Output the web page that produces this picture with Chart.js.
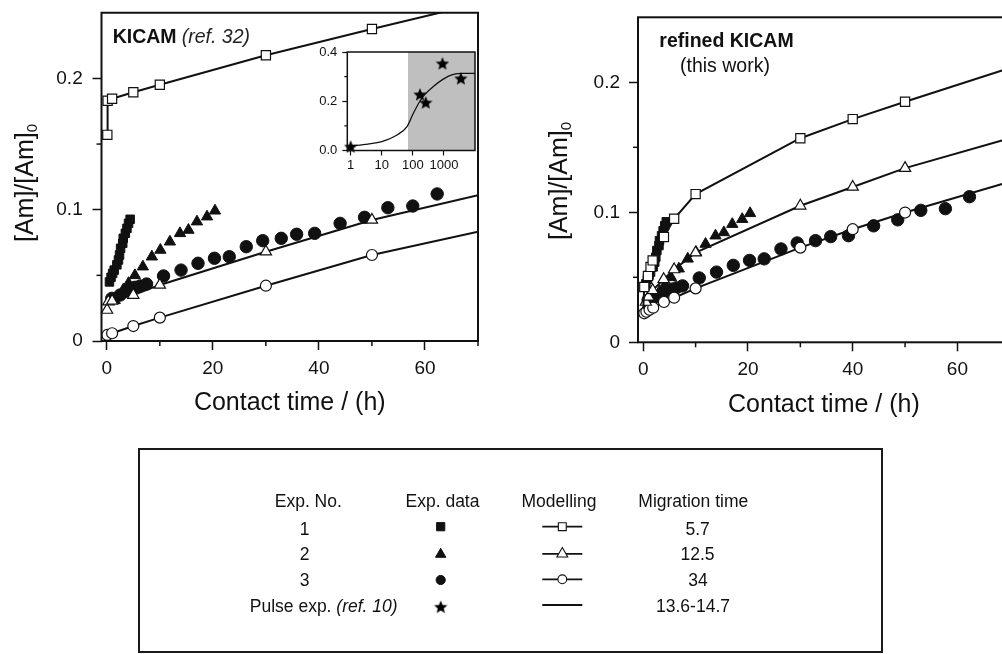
<!DOCTYPE html>
<html>
<head>
<meta charset="utf-8">
<title>Am uptake vs contact time</title>
<script src="https://cdn.jsdelivr.net/npm/chart.js@4.4.1/dist/chart.umd.min.js"></script>
<style>
  html, body { margin: 0; padding: 0; background: #fff; overflow: hidden; width: 1002px; height: 654px; }
  #page { position: relative; width: 1002px; height: 654px; overflow: hidden;
          font-family: "Liberation Sans", Arial, Helvetica, sans-serif; color: #111; }
  canvas { position: absolute; }
  #cLeft  { left: 0; top: 0; }
  #cInset { left: 300px; top: 40px; }
  #cRight { left: 520px; top: 0; }
  #legendBox { position: absolute; left: 138px; top: 448px; width: 745px; height: 205px;
               box-sizing: border-box; border: 2px solid #1a1a1a; }
  #cLegend { left: 0; top: 440px; }
  .lg { position: absolute; font-size: 17.5px; line-height: 17.5px; white-space: nowrap;
        transform: translateX(-50%); color: #111; }
  .lg i { font-style: italic; }
</style>
</head>
<body>
<div id="page">
  <canvas id="cLeft" width="490" height="425"></canvas>
  <canvas id="cInset" width="182" height="140"></canvas>
  <canvas id="cRight" width="500" height="425"></canvas>
  <div id="legendBox"></div>
  <canvas id="cLegend" width="1002" height="214"></canvas>
  <div id="legendText"></div>
</div>
<script>
const FONT = '"Liberation Sans", Arial, Helvetica, sans-serif';
const INK = '#111';
const X_MAX = 70;

// ---- Experimental batch data (same measurements in both panels) ----
const exp1Time  = [0.5, 0.8, 1.1, 1.4, 1.9, 2.2, 2.4, 2.6, 3.0, 3.1, 3.5, 3.8, 4.1, 4.4];
const exp1Ratio = [0.045, 0.0485, 0.0515, 0.054, 0.058, 0.0617, 0.0655, 0.0706, 0.0744, 0.0782, 0.082, 0.0858, 0.0896, 0.0927];

const exp2Time  = [1.5, 2.2, 3.1, 4.1, 5.3, 6.8, 8.5, 10.1, 11.9, 13.8, 15.4, 17.0, 18.9, 20.4];
const exp2Ratio = [0.031, 0.034, 0.039, 0.044, 0.050, 0.0566, 0.0642, 0.0693, 0.0756, 0.082, 0.0845, 0.0909, 0.0947, 0.0992];

const exp3Time  = [0.94, 2.5, 4.1, 5.3, 6.3, 7.5, 10.7, 14.0, 17.2, 20.3, 23.1, 26.3, 29.4, 32.9, 35.8, 39.2, 44.0, 48.6, 53.0, 57.7, 62.3];
const exp3Ratio = [0.0325, 0.035, 0.0388, 0.0409, 0.0419, 0.0434, 0.0495, 0.054, 0.0592, 0.063, 0.0642, 0.0718, 0.0764, 0.0782, 0.0813, 0.082, 0.0896, 0.0942, 0.1015, 0.1028, 0.112];

// ---- KICAM model (ref. 32) ----
const kicam1Time  = [0.1, 0.15, 1, 5, 10, 30, 50, 70];
const kicam1Ratio = [0.157, 0.183, 0.1845, 0.1894, 0.1952, 0.2176, 0.2376, 0.257];
const kicam2Time  = [0.05, 0.3, 1, 5, 10, 30, 50, 70];
const kicam2Ratio = [0.0236, 0.030, 0.0305, 0.035, 0.0427, 0.068, 0.0922, 0.111];
const kicam3Time  = [0.1, 1, 5, 10, 30, 50, 70];
const kicam3Ratio = [0.0046, 0.0059, 0.0114, 0.0178, 0.0421, 0.0655, 0.0832];

// ---- refined KICAM model (this work) ----
const refined1Time  = [0, 0.2, 0.9, 1.4, 1.8, 3.95, 5.9, 10, 30, 40, 50, 70];
const refined1Ratio = [0.026, 0.0425, 0.051, 0.058, 0.063, 0.081, 0.095, 0.114, 0.157, 0.1717, 0.185, 0.211];
const refined2Time  = [0, 0.5, 1, 1.8, 3.9, 5.9, 10, 30, 40, 50, 70];
const refined2Ratio = [0.026, 0.031, 0.035, 0.040, 0.0485, 0.056, 0.069, 0.105, 0.1195, 0.134, 0.157];
const refined3Time  = [0.2, 0.6, 1.2, 1.9, 3.95, 5.9, 10, 30, 40, 50, 70];
const refined3Ratio = [0.0223, 0.0235, 0.025, 0.0266, 0.031, 0.0343, 0.0415, 0.0728, 0.087, 0.0998, 0.1235];

// ---- Pulse experiment (ref. 10), inset ----
const pulseTime  = [1, 170, 260, 900, 3500];
const pulseRatio = [0.016, 0.228, 0.195, 0.354, 0.293];
const pulseFitTime  = [1, 3.6, 10, 31, 65, 104, 178, 245, 447, 925, 1900, 3960, 10000];
const pulseFitRatio = [0.018, 0.026, 0.036, 0.063, 0.097, 0.151, 0.205, 0.228, 0.259, 0.289, 0.308, 0.313, 0.313];

// ---- Axis ticks ----
const mainMinorX = [10, 30, 50, 70];
const mainMinorY = [0.05, 0.15];
const insetDecades = [1, 10, 100, 1000];
const insetMinorY = [0.1, 0.3];

// ---- Legend table ----
const legendHeaders = ['Exp. No.', 'Exp. data', 'Modelling', 'Migration time'];
const legendExpNo = ['1', '2', '3'];
const legendPulseLabel = 'Pulse exp.';
const legendPulseRef = '(ref. 10)';
const migrationTimes = ['5.7', '12.5', '34', '13.6-14.7'];

const pts = (t, v) => t.map((x, i) => ({ x, y: v[i] }));

// Filled five-pointed star used as a point style
function starCanvas(size) {
  const c = document.createElement('canvas');
  c.width = size; c.height = size;
  const g = c.getContext('2d');
  const R = size / 2, r = R * 0.45, cy = R + R * 0.1;
  g.beginPath();
  for (let i = 0; i < 10; i++) {
    const a = -Math.PI / 2 + i * Math.PI / 5;
    const rad = i % 2 ? r : R;
    g.lineTo(R + rad * Math.cos(a), cy + rad * Math.sin(a));
  }
  g.closePath();
  g.fillStyle = '#000';
  g.fill();
  return c;
}
const STAR = starCanvas(14);

function zeroPad(s) { s.paddingLeft = 0; s.paddingRight = 0; s.paddingTop = 0; s.paddingBottom = 0; }
const fitWidth = w => s => { s.width = w; zeroPad(s); };
const fitHeight = h => s => { s.height = h; zeroPad(s); };

const CLIP = { left: 8, top: 0, right: 0, bottom: 8 };

function modelSet(t, v, style, r) {
  return {
    data: pts(t, v), showLine: true, borderColor: INK, borderWidth: 2, tension: 0,
    pointStyle: style,
    pointRadius: c => (t[c.dataIndex] <= 0 || t[c.dataIndex] >= X_MAX) ? 0 : r,
    pointBackgroundColor: '#fff', pointBorderColor: INK, pointBorderWidth: 1.2,
    order: 0, clip: CLIP
  };
}
function expSet(t, v, style, r) {
  return {
    data: pts(t, v), showLine: false, pointStyle: style, pointRadius: r,
    pointBackgroundColor: INK, pointBorderColor: INK, pointBorderWidth: 1,
    order: 1, clip: CLIP
  };
}

function drawYTitle(ctx, baseX, centerY) {
  const main = '[Am]/[Am]', sub = '0';
  ctx.save();
  ctx.font = '25px ' + FONT;
  const w1 = ctx.measureText(main).width;
  ctx.font = '15px ' + FONT;
  const w2 = ctx.measureText(sub).width;
  const start = -(w1 + w2) / 2;
  ctx.translate(baseX, centerY);
  ctx.rotate(-Math.PI / 2);
  ctx.fillStyle = INK;
  ctx.textAlign = 'left';
  ctx.textBaseline = 'alphabetic';
  ctx.font = '25px ' + FONT;
  ctx.fillText(main, start, 0);
  ctx.font = '15px ' + FONT;
  ctx.fillText(sub, start + w1, 4);
  ctx.restore();
}

// Frame, minor ticks and captions of a main panel
function panelDecor(cfg) {
  return {
    id: 'panelDecor',
    afterDraw(chart) {
      const ctx = chart.ctx, a = chart.chartArea;
      const xs = chart.scales.x, ys = chart.scales.y;
      ctx.save();
      ctx.strokeStyle = INK;
      ctx.lineWidth = 1.5;
      mainMinorX.forEach(v => {
        const px = xs.getPixelForValue(v);
        ctx.beginPath(); ctx.moveTo(px, a.bottom); ctx.lineTo(px, a.bottom + 5); ctx.stroke();
      });
      mainMinorY.forEach(v => {
        const py = ys.getPixelForValue(v);
        ctx.beginPath(); ctx.moveTo(a.left, py); ctx.lineTo(a.left - 5, py); ctx.stroke();
      });
      ctx.lineWidth = 2;
      ctx.strokeRect(a.left, a.top, a.right - a.left, a.bottom - a.top);

      ctx.fillStyle = INK;
      ctx.textBaseline = 'alphabetic';
      ctx.textAlign = 'left';
      cfg.captions.forEach(c => {
        ctx.font = c.font;
        ctx.fillStyle = c.color || INK;
        ctx.fillText(c.text, c.x, c.y);
      });
      ctx.fillStyle = INK;
      ctx.textAlign = 'center';
      ctx.font = '25px ' + FONT;
      ctx.fillText('Contact time / (h)', (a.left + a.right) / 2, cfg.xTitleY);
      ctx.restore();
      drawYTitle(ctx, cfg.yTitleX, cfg.yTitleY);
    }
  };
}

function panelOptions(g) {
  const tickFont = { family: FONT, size: 19 };
  const grid = { display: true, drawOnChartArea: false, drawTicks: true, tickLength: 9, tickWidth: 1.5, tickColor: INK };
  return {
    responsive: false, animation: false, events: [],
    layout: { padding: { left: 0, top: g.top, right: g.right, bottom: 0 } },
    plugins: { legend: { display: false }, tooltip: { enabled: false } },
    scales: {
      x: {
        type: 'linear', min: -1, max: X_MAX, afterFit: fitHeight(g.xh),
        ticks: { stepSize: 20, includeBounds: false, font: tickFont, color: INK, padding: 7,
                 maxRotation: 0, autoSkip: false, callback: v => String(v) },
        grid: grid, border: { display: false }
      },
      y: {
        type: 'linear', min: 0, max: 0.25, afterFit: fitWidth(g.yw),
        ticks: { stepSize: 0.1, includeBounds: false, font: tickFont, color: INK, padding: g.ypad,
                 callback: v => (v === 0 ? '0' : v.toFixed(1)) },
        grid: grid, border: { display: false }
      }
    }
  };
}

// ---- Left panel: KICAM ----
new Chart(document.getElementById('cLeft'), {
  type: 'scatter',
  data: {
    datasets: [
      modelSet(kicam1Time, kicam1Ratio, 'rect', 6.5),
      modelSet(kicam2Time, kicam2Ratio, 'triangle', 6.5),
      modelSet(kicam3Time, kicam3Ratio, 'circle', 5.5),
      expSet(exp1Time, exp1Ratio, 'rect', 6),
      expSet(exp2Time, exp2Ratio, 'triangle', 6.5),
      expSet(exp3Time, exp3Ratio, 'circle', 6.2)
    ]
  },
  options: panelOptions({ top: 12.75, right: 12, xh: 84, yw: 101.5, ypad: 9.8 }),
  plugins: [panelDecor({
    xTitleY: 410, yTitleX: 33, yTitleY: 183,
    captions: [
      { text: 'KICAM', x: 112.7, y: 43, font: 'bold 19.5px ' + FONT },
      { text: '(ref. 32)', x: 181.7, y: 43, font: 'italic 19.5px ' + FONT, color: '#222' }
    ]
  })]
});

// ---- Right panel: refined KICAM ----
new Chart(document.getElementById('cRight'), {
  type: 'scatter',
  data: {
    datasets: [
      modelSet(refined1Time, refined1Ratio, 'rect', 6.5),
      modelSet(refined2Time, refined2Ratio, 'triangle', 6.5),
      modelSet(refined3Time, refined3Ratio, 'circle', 5.5),
      expSet(exp1Time, exp1Ratio, 'rect', 6),
      expSet(exp2Time, exp2Ratio, 'triangle', 6.5),
      expSet(exp3Time, exp3Ratio, 'circle', 6.2)
    ]
  },
  options: panelOptions({ top: 17.3, right: 10.2, xh: 82.7, yw: 118, ypad: 9 }),
  plugins: [panelDecor({
    xTitleY: 412, yTitleX: 46.7, yTitleY: 181,
    captions: [
      { text: 'refined KICAM', x: 139.3, y: 47.3, font: 'bold 19.5px ' + FONT },
      { text: '(this work)', x: 160, y: 72, font: '19.5px ' + FONT }
    ]
  })]
});

// ---- Inset: pulse experiment on a log time axis ----
const insetDecor = {
  id: 'insetDecor',
  beforeDatasetsDraw(chart) {
    const ctx = chart.ctx, a = chart.chartArea, xs = chart.scales.x;
    ctx.save();
    ctx.fillStyle = '#fff';
    ctx.fillRect(a.left, a.top, a.right - a.left, a.bottom - a.top);
    const gx = xs.getPixelForValue(X_MAX);
    ctx.fillStyle = '#bfbfbf';
    ctx.fillRect(gx, a.top, a.right - gx, a.bottom - a.top);
    ctx.restore();
  },
  afterDraw(chart) {
    const ctx = chart.ctx, a = chart.chartArea, ys = chart.scales.y;
    ctx.save();
    ctx.strokeStyle = INK;
    ctx.lineWidth = 1.2;
    insetMinorY.forEach(v => {
      const py = ys.getPixelForValue(v);
      ctx.beginPath(); ctx.moveTo(a.left, py); ctx.lineTo(a.left - 3, py); ctx.stroke();
    });
    ctx.lineWidth = 1.5;
    ctx.strokeRect(a.left, a.top, a.right - a.left, a.bottom - a.top);
    ctx.restore();
  }
};

new Chart(document.getElementById('cInset'), {
  type: 'scatter',
  data: {
    datasets: [
      { data: pts(pulseFitTime, pulseFitRatio), showLine: true, borderColor: INK, borderWidth: 1.3,
        pointRadius: 0, cubicInterpolationMode: 'monotone', order: 1 },
      { data: pts(pulseTime, pulseRatio), showLine: false, pointStyle: STAR, pointRadius: 6, order: 0,
        clip: { left: 8, top: 8, right: 8, bottom: 8 } }
    ]
  },
  options: {
    responsive: false, animation: false, events: [],
    layout: { padding: { left: 0, top: 12, right: 4, bottom: 0 } },
    plugins: { legend: { display: false }, tooltip: { enabled: false } },
    scales: {
      x: {
        type: 'logarithmic', min: 0.78, max: 10000,
        afterBuildTicks: s => { s.ticks = insetDecades.map(v => ({ value: v })); },
        afterFit: fitHeight(29.5),
        ticks: { font: { family: FONT, size: 13 }, color: INK, padding: 2, maxRotation: 0, autoSkip: false,
                 callback: v => String(v) },
        grid: { display: true, drawOnChartArea: false, tickLength: 5, tickWidth: 1.2, tickColor: INK },
        border: { display: false }
      },
      y: {
        type: 'linear', min: 0, max: 0.4, afterFit: fitWidth(47.3),
        ticks: { stepSize: 0.2, font: { family: FONT, size: 13 }, color: INK, padding: 5,
                 callback: v => v.toFixed(1) },
        grid: { display: true, drawOnChartArea: false, tickLength: 5, tickWidth: 1.2, tickColor: INK },
        border: { display: false }
      }
    }
  },
  plugins: [insetDecor]
});

// ---- Legend table ----
(function buildLegend() {
  const host = document.getElementById('legendText');
  const ASC = 14.6; // baseline offset inside a 17.5px line box
  function put(html, cx, baseline) {
    const d = document.createElement('div');
    d.className = 'lg';
    d.innerHTML = html;
    d.style.left = cx + 'px';
    d.style.top = (baseline - ASC) + 'px';
    host.appendChild(d);
  }
  const headerX = [308.3, 442.5, 559, 693.3];
  legendHeaders.forEach((h, i) => put(h, headerX[i], 508));
  const rowBase = [535.4, 560.1, 586.8, 612.8];
  legendExpNo.forEach((n, i) => put(n, 304.5, rowBase[i]));
  put(legendPulseLabel + ' <i>' + legendPulseRef + '</i>', 323.7, rowBase[3]);
  const migX = [697.7, 697.5, 698, 693];
  migrationTimes.forEach((m, i) => put(m, migX[i], rowBase[i]));

  // symbol column and modelling column
  const cv = document.getElementById('cLegend');
  const ctx = cv.getContext('2d');
  const top = 440;
  const draw = Chart.helpers.drawPoint;
  ctx.fillStyle = INK; ctx.strokeStyle = INK; ctx.lineWidth = 1;
  draw(ctx, { pointStyle: 'rect', radius: 5.8, rotation: 0, borderWidth: 1 }, 440.7, 526.7 - top);
  draw(ctx, { pointStyle: 'triangle', radius: 6, rotation: 0, borderWidth: 1 }, 440.7, 554.3 - top);
  draw(ctx, { pointStyle: 'circle', radius: 4.6, rotation: 0, borderWidth: 1 }, 440.7, 580 - top);
  draw(ctx, { pointStyle: STAR, radius: 6, rotation: 0, borderWidth: 0 }, 440.7, 606.7 - top);

  const lineY = [526.7, 553.8, 579.3, 605];
  const styles = ['rect', 'triangle', 'circle', null];
  const radii = [5.6, 6.3, 4.4, 0];
  lineY.forEach((y, i) => {
    const yy = y - top;
    ctx.strokeStyle = INK; ctx.lineWidth = 1.8;
    ctx.beginPath(); ctx.moveTo(542.3, yy); ctx.lineTo(582.3, yy); ctx.stroke();
    if (styles[i]) {
      ctx.fillStyle = '#fff'; ctx.lineWidth = 1.1;
      draw(ctx, { pointStyle: styles[i], radius: radii[i], rotation: 0, borderWidth: 1.1 }, 562.3, yy);
    }
  });
})();
</script>
</body>
</html>
